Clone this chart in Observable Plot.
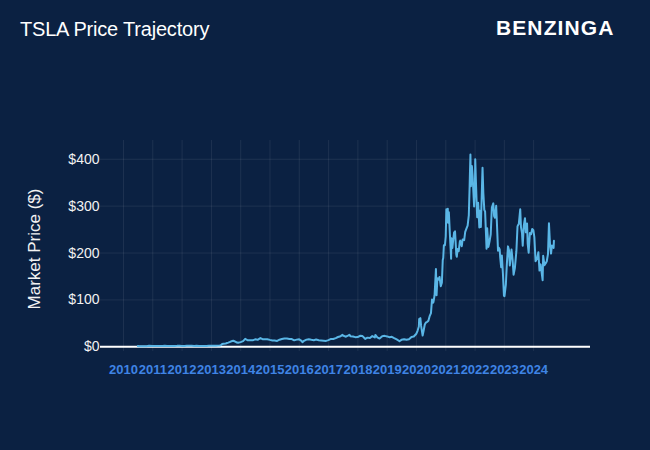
<!DOCTYPE html>
<html>
<head>
<meta charset="utf-8">
<script src="https://cdn.jsdelivr.net/npm/d3@7"></script>
<script src="https://cdn.jsdelivr.net/npm/@observablehq/plot@0.6"></script>
<style>
  html, body { margin:0; padding:0; background:#0b2142; }
  #wrap { position:relative; width:650px; height:450px; background:#0b2142; overflow:hidden; font-family:Arial, "Liberation Sans", sans-serif; }
  #title { position:absolute; left:20px; top:18px; color:#fff; font-size:20px; line-height:23px; letter-spacing:-0.2px; }
  #logo { position:absolute; left:496px; top:16px; color:#fff; font-size:21px; line-height:23px; font-weight:bold; letter-spacing:1.1px; }
  #chart { position:absolute; left:0; top:0; }
</style>
</head>
<body>
<div id="wrap">
  <div id="chart"></div>
  <div id="title">TSLA Price Trajectory</div>
  <div id="logo">BENZINGA</div>
</div>
<script>
const dates = [
"2010-06-29","2010-07-15","2010-08-16","2010-09-15","2010-10-15","2010-11-15","2010-12-31",
"2011-01-31","2011-02-28","2011-03-31","2011-04-29","2011-05-31","2011-06-30","2011-07-29","2011-08-31","2011-09-30","2011-10-31","2011-11-30","2011-12-30",
"2012-01-31","2012-02-29","2012-03-30","2012-04-30","2012-05-31","2012-06-29","2012-07-31","2012-08-31","2012-09-28","2012-10-31","2012-11-30","2012-12-31",
"2013-01-31","2013-02-28","2013-03-28","2013-04-15","2013-04-30","2013-05-15","2013-05-31","2013-06-28","2013-07-15","2013-07-31","2013-08-30","2013-09-30","2013-10-15","2013-10-31","2013-11-15","2013-11-29","2013-12-31",
"2014-01-31","2014-02-26","2014-03-31","2014-04-30","2014-05-30","2014-06-30","2014-07-31","2014-08-29","2014-09-04","2014-09-30","2014-10-31","2014-11-28","2014-12-31",
"2015-01-30","2015-02-27","2015-03-31","2015-04-30","2015-05-29","2015-06-30","2015-07-31","2015-08-31","2015-09-30","2015-10-30","2015-11-30","2015-12-31",
"2016-01-29","2016-02-10","2016-02-29","2016-03-31","2016-04-29","2016-05-31","2016-06-30","2016-07-29","2016-08-31","2016-09-30","2016-10-31","2016-11-30","2016-12-30",
"2017-01-31","2017-02-28","2017-03-31","2017-04-28","2017-05-31","2017-06-23","2017-06-30","2017-07-31","2017-08-31","2017-09-18","2017-09-29","2017-10-31","2017-11-30","2017-12-29",
"2018-01-31","2018-02-28","2018-03-29","2018-04-02","2018-04-30","2018-05-31","2018-06-29","2018-07-31","2018-08-07","2018-08-31","2018-09-28","2018-10-31","2018-11-30","2018-12-31",
"2019-01-31","2019-02-28","2019-03-29","2019-04-30","2019-05-31","2019-06-03","2019-06-28","2019-07-31","2019-08-30","2019-09-30","2019-10-31","2019-11-29","2019-12-31",
"2020-01-15","2020-01-31","2020-02-04","2020-02-07","2020-02-19","2020-02-28","2020-03-18","2020-03-31","2020-04-14","2020-04-30","2020-05-15","2020-05-29","2020-06-15","2020-06-30","2020-07-13","2020-07-24","2020-07-31","2020-08-14","2020-08-31","2020-09-08","2020-09-18","2020-09-30","2020-10-15","2020-10-30","2020-11-13","2020-11-24","2020-11-30","2020-12-08","2020-12-21","2020-12-31",
"2021-01-08","2021-01-15","2021-01-26","2021-01-29","2021-02-08","2021-02-23","2021-03-05","2021-03-08","2021-03-12","2021-03-24","2021-03-31","2021-04-14","2021-04-26","2021-05-12","2021-05-18","2021-05-28","2021-06-11","2021-06-25","2021-06-30","2021-07-19","2021-07-30","2021-08-18","2021-08-31","2021-09-15","2021-09-30","2021-10-15","2021-10-25","2021-10-29","2021-11-04","2021-11-10","2021-11-22","2021-12-01","2021-12-20","2021-12-31",
"2022-01-03","2022-01-13","2022-01-27","2022-02-08","2022-02-23","2022-02-28","2022-03-14","2022-03-31","2022-04-04","2022-04-14","2022-04-26","2022-05-06","2022-05-24","2022-06-01","2022-06-16","2022-06-30","2022-07-15","2022-07-29","2022-08-16","2022-08-26","2022-09-06","2022-09-21","2022-09-30","2022-10-14","2022-10-24","2022-11-04","2022-11-10","2022-11-22","2022-12-01","2022-12-14","2022-12-27",
"2023-01-03","2023-01-06","2023-01-20","2023-01-31","2023-02-15","2023-02-28","2023-03-10","2023-03-31","2023-04-14","2023-04-26","2023-05-12","2023-05-31","2023-06-14","2023-06-21","2023-06-30","2023-07-18","2023-07-27","2023-08-09","2023-08-18","2023-08-31","2023-09-15","2023-09-26","2023-10-11","2023-10-19","2023-10-31","2023-11-15","2023-11-30","2023-12-14","2023-12-29",
"2024-01-10","2024-01-25","2024-02-14","2024-02-29","2024-03-14","2024-03-28","2024-04-22","2024-04-29","2024-05-15","2024-05-31","2024-06-13","2024-06-28","2024-07-10","2024-07-24","2024-08-05","2024-08-16","2024-08-30","2024-09-06","2024-09-10"
];
const prices = [
1.59,1.30,1.35,1.38,1.40,2.10,1.78,
1.60,1.60,1.80,1.85,2.00,1.90,1.90,1.65,1.62,2.00,2.20,1.90,
1.95,2.25,2.48,2.20,1.97,2.09,1.85,1.90,1.95,1.88,2.26,2.26,
2.50,2.32,2.53,2.90,3.60,5.80,6.50,7.20,8.20,8.95,11.20,12.90,11.90,10.70,9.00,8.50,10.00,
12.05,16.90,13.90,13.80,13.80,16.00,14.90,17.98,18.60,16.20,16.10,16.30,14.80,
13.60,13.58,12.58,15.11,16.73,17.88,17.72,16.60,16.56,13.81,15.34,16.00,
12.76,9.79,12.75,15.32,16.00,14.94,14.15,15.67,14.17,13.60,13.13,12.60,14.25,
16.77,16.70,18.55,20.95,22.69,25.50,24.11,21.56,23.73,25.70,22.74,22.10,20.59,20.76,
23.62,22.87,17.74,16.83,19.59,18.97,22.86,19.88,25.30,20.11,17.65,22.49,23.36,22.19,
20.47,21.33,18.66,15.91,12.34,11.93,14.90,16.11,15.04,16.06,20.99,21.99,27.89,
34.23,43.37,59.14,49.87,61.16,44.53,24.08,34.93,47.64,52.13,53.28,55.67,66.06,71.99,101.0,94.0,95.38,110.0,166.1,110.1,146.0,143.0,149.0,129.3,136.5,185.0,189.2,216.6,216.6,235.2,
293.3,276.4,294.4,264.5,287.1,233.0,199.3,187.7,231.3,210.7,222.6,243.6,246.3,196.6,192.0,208.4,204.0,224.5,226.6,214.6,229.1,227.5,245.2,251.9,258.5,281.0,341.6,371.3,410.0,342.5,385.6,365.0,299.3,352.3,
399.9,344.9,276.4,307.0,254.7,290.1,255.5,359.2,381.8,328.0,292.1,288.5,209.4,252.8,213.1,224.5,240.1,297.1,306.0,278.9,275.3,300.8,265.2,205.0,211.3,207.5,191.3,169.9,194.7,156.8,109.1,
108.1,113.1,133.4,173.2,214.2,205.7,173.4,207.5,185.0,153.8,168.0,203.9,256.8,259.5,261.8,293.3,255.7,242.7,215.5,258.1,274.4,244.1,263.0,220.1,200.8,242.8,240.1,251.1,248.5,
233.9,182.6,188.7,201.9,162.5,175.8,142.1,194.1,174.0,178.1,182.5,197.9,263.3,216.0,198.9,216.1,214.1,210.7,226.2
];
const yearTicks = [2010,2011,2012,2013,2014,2015,2016,2017,2018,2019,2020,2021,2022,2023,2024];
const priceTicks = [0,100,200,300,400];

const data = dates.map((d, i) => ({date: new Date(d + "T00:00:00Z"), price: prices[i]}));
const xTicks = yearTicks.map(y => new Date(Date.UTC(y, 0, 1)));

const chart = Plot.plot({
  width: 650,
  height: 450,
  marginLeft: 100,
  marginRight: 60,
  marginTop: 140,
  marginBottom: 99,
  style: {background: "transparent", color: "#ffffff", fontFamily: "Arial, 'Liberation Sans', sans-serif", overflow: "visible"},
  x: {type: "utc", domain: [new Date("2009-03-20T00:00:00Z"), new Date("2025-12-10T00:00:00Z")], label: null},
  y: {domain: [-10, 440], label: null},
  marks: [
    Plot.gridX(xTicks, {stroke: "#ffffff", strokeOpacity: 0.08, strokeWidth: 1}),
    Plot.gridY(priceTicks, {stroke: "#ffffff", strokeOpacity: 0.08, strokeWidth: 1}),
    Plot.axisX(xTicks, {tickSize: 0, tickPadding: 13, tickFormat: d => d3.utcFormat("%Y")(d), fill: "#3f84e5", fontWeight: "bold", fontSize: 13, label: null}),
    Plot.axisY(priceTicks, {tickSize: 0, tickPadding: 1, tickFormat: d => "$" + d, fill: "#f2f2f2", fontSize: 14, label: null}),
    Plot.text(["Market Price ($)"], {frameAnchor: "left", dx: -66, dy: 3, rotate: -90, textAnchor: "middle", lineAnchor: "middle", fill: "#f2f2f2", fontSize: 17}),
    Plot.ruleY([0], {stroke: "#ffffff", strokeWidth: 2}),
    Plot.lineY(data, {x: "date", y: "price", stroke: "#5ab6e6", strokeWidth: 2})
  ]
});
document.getElementById("chart").appendChild(chart);
</script>
</body>
</html>
